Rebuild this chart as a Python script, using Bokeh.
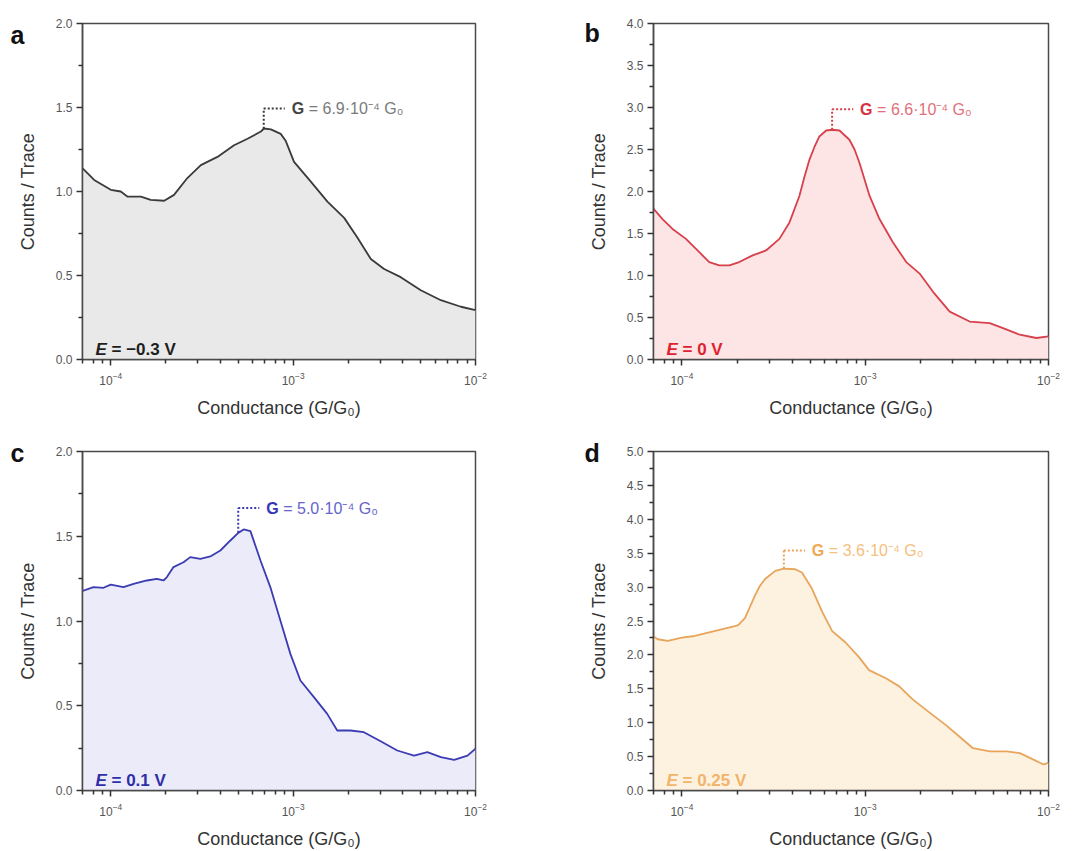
import numpy as np
from bokeh.plotting import figure
from bokeh.layouts import column, row
from bokeh.models import FixedTicker, Label, PrintfTickFormatter, LogTickFormatter
from bokeh.embed import file_html
from bokeh.resources import INLINE

# log10 of conductance (G/G0) and counts per trace for each electrode potential
lg_a = [-4.154, -4.091, -4.0, -3.945, -3.909, -3.835, -3.781, -3.707, -3.653, -3.580,
        -3.506, -3.415, -3.324, -3.250, -3.177, -3.160, -3.122, -3.068, -3.040, -2.995,
        -2.903, -2.812, -2.720, -2.647, -2.574, -2.501, -2.410, -2.300, -2.190, -2.080,
        -2.0]
cnt_a = [1.137, 1.069, 1.01, 1.0, 0.97, 0.97, 0.95, 0.945, 0.98, 1.08,
         1.157, 1.206, 1.275, 1.314, 1.357, 1.375, 1.37, 1.343, 1.30, 1.176,
         1.059, 0.94, 0.843, 0.725, 0.598, 0.539, 0.49, 0.412, 0.353, 0.314,
         0.294]

lg_b = [-4.160, -4.106, -4.051, -3.978, -3.905, -3.851, -3.796, -3.741, -3.687, -3.614,
        -3.541, -3.468, -3.413, -3.359, -3.332, -3.304, -3.277, -3.250, -3.213, -3.180,
        -3.140, -3.086, -3.058, -3.031, -2.976, -2.922, -2.849, -2.776, -2.703, -2.630,
        -2.539, -2.430, -2.321, -2.248, -2.157, -2.066, -2.0]
cnt_b = [1.809, 1.672, 1.554, 1.436, 1.278, 1.160, 1.121, 1.121, 1.160, 1.239,
         1.298, 1.436, 1.632, 1.947, 2.17, 2.38, 2.53, 2.655, 2.726, 2.735,
         2.726, 2.616, 2.50, 2.34, 1.947, 1.672, 1.396, 1.160, 1.023, 0.806,
         0.570, 0.452, 0.433, 0.374, 0.295, 0.256, 0.275]

lg_c = [-4.158, -4.095, -4.040, -4.0, -3.930, -3.875, -3.802, -3.747, -3.711, -3.692,
        -3.656, -3.601, -3.564, -3.509, -3.454, -3.399, -3.344, -3.301, -3.271, -3.234,
        -3.179, -3.125, -3.070, -3.015, -2.960, -2.886, -2.813, -2.758, -2.685, -2.612,
        -2.520, -2.429, -2.337, -2.264, -2.190, -2.117, -2.044, -2.0]
cnt_c = [1.176, 1.20, 1.196, 1.215, 1.20, 1.219, 1.239, 1.249, 1.239, 1.259,
         1.318, 1.347, 1.377, 1.367, 1.381, 1.416, 1.475, 1.52, 1.54, 1.53,
         1.357, 1.20, 1.003, 0.806, 0.649, 0.551, 0.452, 0.354, 0.354, 0.344,
         0.291, 0.236, 0.206, 0.226, 0.197, 0.181, 0.206, 0.246]

lg_d = [-4.159, -4.132, -4.077, -4.0, -3.930, -3.857, -3.784, -3.711, -3.693, -3.656,
        -3.601, -3.574, -3.546, -3.491, -3.444, -3.382, -3.345, -3.290, -3.235, -3.180,
        -3.107, -3.034, -2.979, -2.887, -2.814, -2.741, -2.650, -2.558, -2.485, -2.412,
        -2.320, -2.229, -2.156, -2.082, -2.027, -2.0]
cnt_d = [2.279, 2.231, 2.207, 2.255, 2.279, 2.327, 2.375, 2.423, 2.44, 2.543,
         2.879, 3.02, 3.119, 3.239, 3.273, 3.263, 3.215, 2.975, 2.639, 2.351,
         2.183, 1.967, 1.775, 1.655, 1.536, 1.344, 1.152, 0.960, 0.792, 0.624,
         0.576, 0.576, 0.552, 0.456, 0.384, 0.408]

# peak conductance (mantissa, x 1e-4) and height of the annotation leader
peak_mant = {"a": 6.9, "b": 6.6, "c": 5.0, "d": 3.6}
leader_y = {"a": 1.494, "b": 2.98, "c": 1.666, "d": 3.54}
potential = {"a": "= \u22120.3 V", "b": "= 0 V", "c": "= 0.1 V", "d": "= 0.25 V"}
y_max = {"a": 2.0, "b": 4.0, "c": 2.0, "d": 5.0}

X_MIN, X_MAX = 7e-5, 1e-2
FONT = "Liberation Sans"
AXIS_GREY = "#4a4a4a"

styles = {
    "a": dict(line="#3a3a3a", fill="#e9e9e9", e="#1e1e1e", g="#444444", rest="#7a7a7a"),
    "b": dict(line="#d8404b", fill="#fde5e5", e="#e02230", g="#d83040", rest="#e2707a"),
    "c": dict(line="#3b3bb2", fill="#ebebfa", e="#2f2fa8", g="#3535b8", rest="#6464cc"),
    "d": dict(line="#e8a55c", fill="#fdf1df", e="#f2b46a", g="#f0a850", rest="#f5c080"),
}

# frame borders (left, right, top, bottom), overall size of each panel and
# position of the panel letter inside its side panel
geometry = {
    "a": dict(w=541, h=420, l=82, r=66, t=20, b=60, lx=10, ly=325),
    "b": dict(w=541, h=420, l=112, r=34, t=23, b=58, lx=14, ly=327),
    "c": dict(w=541, h=431, l=82, r=66, t=31, b=61, lx=10, ly=338),
    "d": dict(w=541, h=431, l=112, r=34, t=23, b=61, lx=14, ly=338),
}

data = {"a": (lg_a, cnt_a), "b": (lg_b, cnt_b), "c": (lg_c, cnt_c), "d": (lg_d, cnt_d)}

minor_x = [7e-5, 8e-5, 9e-5] + [k * 1e-4 for k in range(2, 10)] + [k * 1e-3 for k in range(2, 10)]


def panel(key):
    g = geometry[key]
    st = styles[key]
    ymax = y_max[key]
    lg, cnt = data[key]
    cond = [10 ** v for v in lg]

    p = figure(width=g["w"], height=g["h"], x_axis_type="log",
               x_range=(X_MIN, X_MAX), y_range=(0, ymax),
               output_backend="svg", toolbar_location=None,
               min_border_left=g["l"], min_border_right=g["r"],
               min_border_top=g["t"], min_border_bottom=g["b"])
    p.xgrid.visible = False
    p.ygrid.visible = False
    p.outline_line_color = AXIS_GREY
    p.outline_line_width = 1.5
    p.background_fill_color = "white"
    p.border_fill_color = "white"

    p.xaxis.ticker = FixedTicker(ticks=[1e-4, 1e-3, 1e-2], minor_ticks=minor_x)
    p.xaxis.formatter = LogTickFormatter()
    ymaj = [i * 0.5 for i in range(int(ymax / 0.5) + 1)]
    ymin_t = [v + 0.25 for v in ymaj[:-1]]
    p.yaxis.ticker = FixedTicker(ticks=ymaj, minor_ticks=ymin_t)
    p.yaxis.formatter = PrintfTickFormatter(format="%.1f")

    for ax in (p.xaxis[0], p.yaxis[0]):
        ax.axis_line_color = AXIS_GREY
        ax.axis_line_width = 1.5
        ax.major_tick_line_color = "#333333"
        ax.minor_tick_line_color = "#333333"
        ax.major_tick_line_width = 1.5
        ax.minor_tick_line_width = 1.5
        ax.major_tick_in = 0
        ax.major_tick_out = 6
        ax.minor_tick_in = 0
        ax.minor_tick_out = 4
        ax.major_label_text_font = FONT
        ax.major_label_text_font_size = "12px"
        ax.major_label_text_color = "#555555"
        ax.axis_label_text_font = FONT
        ax.axis_label_text_font_size = "18px"
        ax.axis_label_text_font_style = "normal"
        ax.axis_label_text_color = "#333333"

    p.xaxis.axis_label = "Conductance (G/G\u2080)"
    p.yaxis.axis_label = "Counts / Trace"
    p.xaxis.major_label_standoff = 6
    p.xaxis.axis_label_standoff = 10
    p.yaxis.major_label_standoff = 4
    p.yaxis.axis_label_standoff = 15

    # filled histogram
    p.varea(x=cond, y1=0, y2=cnt, fill_color=st["fill"])
    p.line(x=cond, y=cnt, line_color=st["line"], line_width=1.8)

    # peak annotation with dotted leader
    mant = peak_mant[key]
    gp = mant * 1e-4
    y_peak = float(np.interp(np.log10(gp), lg, cnt))
    ly = leader_y[key]
    p.line(x=[gp, gp], y=[y_peak, ly], line_color=st["line"], line_width=2, line_dash="2 2")
    p.line(x=[gp, gp * 10 ** (21 / 182)], y=[ly, ly], line_color=st["line"], line_width=2,
           line_dash="2 2")
    p.add_layout(Label(x=gp, y=ly, x_offset=28, text="G", text_font=FONT,
                       text_font_size="16px", text_font_style="bold",
                       text_color=st["g"], text_baseline="middle"))
    p.add_layout(Label(x=gp, y=ly, x_offset=45,
                       text="= %.1f\u00b710\u207b\u2074 G\u2080" % mant, text_font=FONT,
                       text_font_size="16px", text_color=st["rest"], text_baseline="middle"))

    # electrode potential
    p.add_layout(Label(x=X_MIN, y=0, x_offset=13, y_offset=10, text="E", text_font=FONT,
                       text_font_size="17px", text_font_style="bold italic",
                       text_color=st["e"], text_baseline="alphabetic"))
    p.add_layout(Label(x=X_MIN, y=0, x_offset=29, y_offset=10, text=potential[key],
                       text_font=FONT, text_font_size="17px", text_font_style="bold",
                       text_color=st["e"], text_baseline="alphabetic"))

    # panel letter, kept in its own side panel left of the y axis
    p.add_layout(Label(x=g["lx"], y=g["ly"], x_units="screen", y_units="screen", text=key,
                       text_font=FONT, text_font_size="25px", text_font_style="bold",
                       text_color="#111111", text_baseline="alphabetic"), "left")
    return p


layout = column(row(panel("a"), panel("b")), row(panel("c"), panel("d")))

with open("out.html", "w") as f:
    f.write(file_html(layout, INLINE))
